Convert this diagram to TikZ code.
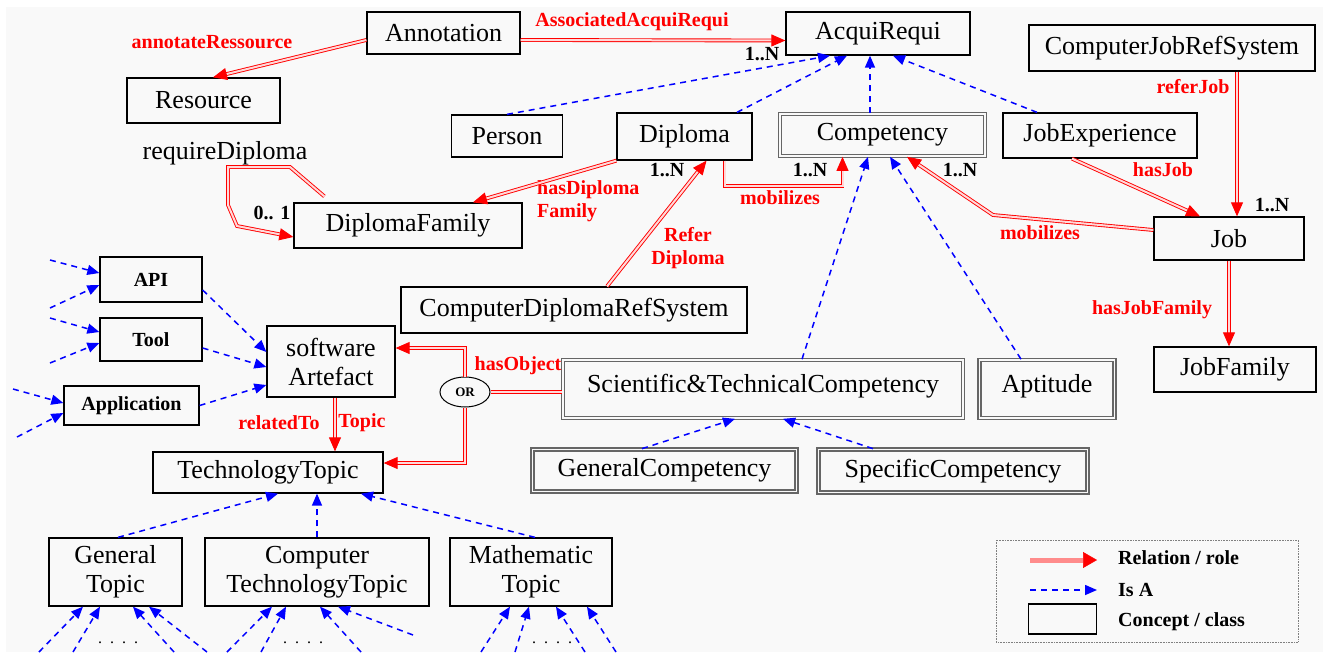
\documentclass[tikz,border=0pt]{standalone}
\usepackage{fontspec}
\setmainfont{Liberation Serif}
\usetikzlibrary{arrows.meta,shapes.geometric}
\definecolor{bgcol}{RGB}{249,249,249}
\newcommand\bigfnt{\fontsize{26}{29}\selectfont}
\newcommand\midfnt{\fontsize{20}{24}\selectfont\bfseries}
\newcommand\lblfnt{\fontsize{20}{22.5}\selectfont\bfseries}
\newcommand\orfnt{\fontsize{13}{15}\selectfont\bfseries}
\begin{document}
\begin{tikzpicture}[x=1pt,y=-1pt,
    cls/.style={draw,line width=1.3pt,inner sep=0pt,align=center,font=\bigfnt},
    dcls/.style={cls,draw=black!60,line width=1.7pt,double=bgcol,double distance=1.2pt},
    rel/.style={draw=red,line width=0.9pt,double=red!15,double distance=2pt,-{Triangle[length=14pt,width=12pt]}},
    relnt/.style={draw=red,line width=0.9pt,double=red!15,double distance=2pt},
    isa/.style={draw=blue,line width=1.5pt,dash pattern=on 6pt off 5pt,-{Triangle[length=12pt,width=10pt]}},
    lbl/.style={text=red,font=\lblfnt,inner sep=0pt},
    card/.style={font=\lblfnt,inner sep=0pt}]
    \fill[bgcol] (6,7) rectangle (1323,652);
    \useasboundingbox (0,0) rectangle (1323,659);
    \node[cls,minimum width=153,minimum height=42] (annot) at (443.5,33) {Annotation};
    \node[cls,minimum width=153,minimum height=45] (res) at (203.5,100.5) {Resource};
    \node[cls,minimum width=184,minimum height=43] (acq) at (878,33.5) {AcquiRequi};
    \node[cls,minimum width=286,minimum height=46] (cjrs) at (1172,48) {ComputerJobRefSystem};
    \node[cls,minimum width=111,minimum height=42] (person) at (507,136) {Person};
    \node[cls,minimum width=135,minimum height=47] (dipl) at (684.5,136.5) {Diploma};
    \node[dcls,minimum width=205,minimum height=42] (comp) at (882.5,135) {Competency};
    \node[cls,minimum width=194,minimum height=45] (jobexp) at (1100,135.5) {JobExperience};
    \node[cls,minimum width=150,minimum height=43] (job) at (1229,238.5) {Job};
    \node[cls,minimum width=162,minimum height=45] (jfam) at (1235,369.5) {JobFamily};
    \node[cls,minimum width=228,minimum height=45] (dfam) at (408,225.5) {DiplomaFamily};
    \node[cls,minimum width=346,minimum height=46] (cdrs) at (574,310) {ComputerDiplomaRefSystem};
    \node[cls,minimum width=128,minimum height=71] (sart) at (331,361.5) {software\\Artefact};
    \node[cls,font=\midfnt,minimum width=102,minimum height=45] (api) at (151,279.5) {API};
    \node[cls,font=\midfnt,minimum width=102,minimum height=43] (tool) at (151,339.5) {Tool};
    \node[cls,font=\midfnt,minimum width=135,minimum height=39] (appl) at (131.5,405.5) {Application};
    \node[dcls,minimum width=400,minimum height=58,text height=18pt,text depth=12pt] (stc) at (763,389) {Scientific\&TechnicalCompetency};
    \node[dcls,minimum width=135,minimum height=58,text height=18pt,text depth=11pt] (apt) at (1047,389) {Aptitude};
    \node[dcls,minimum width=264,minimum height=42] (gcomp) at (664.5,470.5) {GeneralCompetency};
    \node[dcls,minimum width=269,minimum height=43] (scomp) at (953,471) {SpecificCompetency};
    \node[draw,ellipse,line width=1pt,minimum width=50,minimum height=30,inner sep=0pt,font=\orfnt] (ornode) at (465,392) {OR};
    \node[cls,minimum width=230,minimum height=41] (ttop) at (268,472.5) {TechnologyTopic};
    \node[cls,minimum width=133,minimum height=68] (gent) at (115.5,572) {General\\Topic};
    \node[cls,minimum width=224,minimum height=68] (ctt) at (317,572) {Computer\\TechnologyTopic};
    \node[cls,minimum width=162,minimum height=68] (matht) at (531,572) {Mathematic\\Topic};
    \node[lbl] (lres) at (212,42) {annotateRessource};
    \node[lbl] (lacq) at (632,22) {AssociatedAcquiRequi};
    \node[lbl,align=left,anchor=west] (ldfam) at (537,201) {hasDiploma\\Family};
    \node[lbl,align=center] (lref) at (688,248) {Refer\\Diploma};
    \node[lbl] (lmob) at (780,198) {mobilizes};
    \node[lbl] (lmobjob) at (1040,233) {mobilizes};
    \node[lbl] (lhasjob) at (1163,170) {hasJob};
    \node[lbl] (lrefjob) at (1193,87) {referJob};
    \node[lbl] (ljfam) at (1152,310) {hasJobFamily};
    \node[lbl] (lrel) at (279,423) {relatedTo};
    \node[lbl] (ltopic) at (362,423) {Topic};
    \node[lbl] (lobj) at (518,366) {hasObject};
    \node[font=\bigfnt,inner sep=0pt] (lreq) at (225,153) {requireDiploma};
    \node[card] (cacq) at (762,54) {1..N};
    \node[card] (cdipl) at (667,170) {1..N};
    \node[card] (ccomp) at (810,170) {1..N};
    \node[card] (ccompjob) at (960,170) {1..N};
    \node[card] (cjob) at (1272,205) {1..N};
    \node[card] (cdfam) at (272,213) {0.. 1};
    \draw[rel] ([yshift=-7pt]annot.west) -- ([xshift=9.5pt]res.north);
    \draw[rel] ([yshift=-7pt]annot.east) -- ([yshift=-7pt]acq.west);
    \draw[rel] (dipl.south west) -- ([xshift=65pt]dfam.north);
    \draw[rel] ([xshift=33pt]cdrs.north) -- ([xshift=22pt]dipl.south);
    \draw[rel] ([xshift=40pt]dipl.south) -- ++(0,25) -| ([xshift=-40pt]comp.south);
    \draw[rel] ([yshift=8.5pt]job.west) -- (993,215) -- ([xshift=24.5pt]comp.south);
    \draw[rel] ([xshift=-28pt]jobexp.south) -- ([xshift=-29pt]job.north);
    \draw[rel] ([xshift=65pt]cjrs.south) -- ([xshift=8pt]job.north);
    \draw[rel] (job.south) -- (job.south |- jfam.north);
    \draw[rel] ([xshift=4pt]sart.south) -- ([xshift=4pt]sart.south |- ttop.north);
    \draw[rel] ([shift={(31pt,6pt)}]dfam.north west) -- (290,167) -- (228,167) -- (228,205) -- (237,226) -- ([yshift=-11.5pt]dfam.west);
    \draw[relnt] (ornode.east) -- (ornode.east -| stc.west);
    \draw[rel] (ornode.north) |- ([yshift=13.5pt]sart.east);
    \draw[rel] (ornode.south) |- ([yshift=9.5pt]ttop.east);
    \draw[isa] (person.north) -- ([xshift=-48pt]acq.south);
    \draw[isa] ([xshift=52.5pt]dipl.north) -- ([xshift=-31pt]acq.south);
    \draw[isa] ([xshift=-12.5pt]comp.north) -- ([xshift=-8pt]acq.south);
    \draw[isa] ([xshift=-63pt]jobexp.north) -- ([xshift=15pt]acq.south);
    \draw[isa] ([xshift=39pt]stc.north) -- ([xshift=-14.5pt]comp.south);
    \draw[isa] ([xshift=-26pt]apt.north) -- ([xshift=7.5pt]comp.south);
    \draw[isa] ([xshift=-22.5pt]gcomp.north) -- ([xshift=-28pt]stc.south);
    \draw[isa] ([xshift=-80pt]scomp.north) -- ([xshift=20pt]stc.south);
    \draw[isa] ([yshift=-10.5pt]api.east) -- ([yshift=9.5pt]sart.west);
    \draw[isa] ([yshift=-8.5pt]tool.east) -- ([yshift=-5.5pt]sart.west);
    \draw[isa] (appl.east) -- ([yshift=-23.5pt]sart.west);
    \draw[isa] ([xshift=2.5pt]gent.north) -- ([xshift=10pt]ttop.south);
    \draw[isa] (ctt.north) -- (ctt.north |- ttop.south);
    \draw[isa] ([xshift=4pt]matht.north) -- ([xshift=93pt]ttop.south);
    \foreach \n/\tx/\ty/\dy in {api/50/260/6.5,api/50/308/-5.5,tool/50/318/7.5,tool/50/363/-3.5,appl/13/389/2.5,appl/17/437/-7.5}
        {\coordinate (tail) at (\tx,\ty); \draw[isa] (tail) -- ([yshift=\dy pt]\n.west);}
    \foreach \n/\tx/\ty/\dx in {gent/39/652/-32.5,gent/73/652/-15.5,gent/174/652/17.5,gent/207/652/33.5,ctt/227/652/-45,ctt/261/652/-31,ctt/361/652/3,ctt/413/635/21,matht/481/652/-21,matht/515/652/-2,matht/585/652/25,matht/616/652/56}
        {\coordinate (tail) at (\tx,\ty); \draw[isa] (tail) -- ([xshift=\dx pt]\n.south);}
    \node[font=\fontsize{16}{18}\selectfont] (dgen) at (118,643) {.\enspace.\enspace.\enspace.};
    \node[font=\fontsize{16}{18}\selectfont] (dctt) at (303,643) {.\enspace.\enspace.\enspace.};
    \node[font=\fontsize{16}{18}\selectfont] (dmath) at (552,643) {.\enspace.\enspace.\enspace.};
    \draw[gray,densely dotted,line width=0.6pt] (996,540) rectangle (1298,642);
    \node[card,anchor=west] (lgrel) at (1118,558) {Relation / role};
    \node[card,anchor=west] (lgisa) at (1118,590) {Is A};
    \node[card,anchor=west] (lgcls) at (1118,622) {Concept / class};
    \draw[draw=red!45,line width=5pt,-{Triangle[length=14pt,width=16pt,color=red,line width=0.5pt]}] ([xshift=-88pt,yshift=-2pt]lgrel.west) -- ([xshift=-21pt,yshift=-2pt]lgrel.west);
    \draw[isa] ([xshift=-88pt]lgisa.west) -- ([xshift=-21pt]lgisa.west);
    \node[draw,line width=1.5pt,minimum width=68,minimum height=30,anchor=east] (lgbox) at ([xshift=-21pt,yshift=3pt]lgcls.west) {};
\end{tikzpicture}
\end{document}
